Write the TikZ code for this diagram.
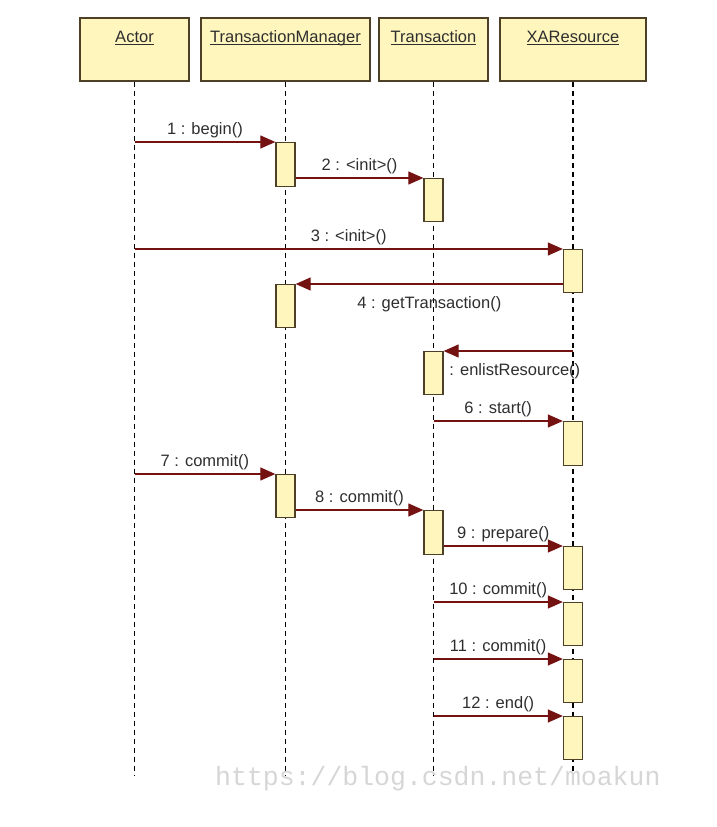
\documentclass[tikz,border=0pt]{standalone}
\usepackage{fontspec}
\setmainfont{Liberation Sans}
\newfontfamily\wmfont{Liberation Mono}
\usepackage{tikz}
\usetikzlibrary{arrows.meta}

\definecolor{boxfill}{HTML}{FFF6BE}
\definecolor{boxline}{HTML}{4E3F27}
\definecolor{msgred}{HTML}{741212}
\definecolor{textgray}{HTML}{2E2E2E}

\begin{document}
\begin{tikzpicture}[x=1pt, y=-1pt, >={Triangle[length=15pt,width=13pt]},
  head/.style={draw=boxline, fill=boxfill, line width=1.3pt, minimum height=63pt, inner sep=0pt},
  headname/.style={font=\fontsize{16.5}{18}\selectfont, text=textgray, anchor=base, inner sep=0pt},
  life/.style={dash pattern=on 5pt off 4pt, line width=1.6pt, black},
  act/.style={draw=boxline, fill=boxfill, line width=1.3pt, minimum width=19pt, minimum height=43pt, inner sep=0pt, anchor=north},
  msg/.style={->, draw=msgred, line width=1.2pt},
  msgtext/.style={font=\fontsize{16.5}{18}\selectfont, text=textgray, anchor=base, inner sep=0pt},
  msglabel/.style={msgtext, yshift=8pt},
  msgbelow/.style={msgtext, yshift=-24pt}]
  % canvas is 717 x 827, y grows downwards
  \useasboundingbox (0,0) rectangle (717,827);

  % --- object heads ---
  \node[head, minimum width=109pt] (actor) at (134.5,49.5) {};
  \node[head, minimum width=169pt] (tm)    at (285.5,49.5) {};
  \node[head, minimum width=109pt] (tx)    at (433.5,49.5) {};
  \node[head, minimum width=146pt] (xa)    at (573,49.5) {};
  \node[headname] (actor-name) at ([yshift=-25pt]actor.north) {\underline{\smash{Actor}}};
  \node[headname] (tm-name)    at ([yshift=-25pt]tm.north)    {\underline{\smash{TransactionManager}}};
  \node[headname] (tx-name)    at ([yshift=-25pt]tx.north)    {\underline{\smash{Transaction}}};
  \node[headname] (xa-name)    at ([yshift=-25pt]xa.north)    {\underline{\smash{XAResource}}};

  % --- lifelines ---
  \coordinate (actor-end) at (actor.south |- 0,775);
  \coordinate (tm-end)    at (tm.south |- 0,775);
  \coordinate (tx-end)    at (tx.south |- 0,775);
  \coordinate (xa-end)    at (xa.south |- 0,772);
  \draw[life] (actor.south) -- (actor-end);
  \draw[life] (tm.south)    -- (tm-end);
  \draw[life] (tx.south)    -- (tx-end);
  \draw[life] (xa.south)    -- (xa-end);

  % --- activations ---
  \node[act, minimum height=44pt] (tm1) at (tm.south |- 0,142) {};
  \node[act] (tx1) at (tx.south |- 0,178) {};
  \node[act] (xa1) at (xa.south |- 0,249) {};
  \node[act] (tm2) at (tm.south |- 0,284) {};
  \node[act] (tx2) at (tx.south |- 0,351) {};
  \node[act, minimum height=44pt] (xa2) at (xa.south |- 0,421) {};
  \node[act] (tm3) at (tm.south |- 0,474) {};
  \node[act, minimum height=44pt] (tx3) at (tx.south |- 0,510) {};
  \node[act] (xa3) at (xa.south |- 0,546) {};
  \node[act] (xa4) at (xa.south |- 0,602) {};
  \node[act] (xa5) at (xa.south |- 0,659) {};
  \node[act] (xa6) at (xa.south |- 0,716) {};

  % --- messages ---
  \draw[msg] (tm1.north west -| actor) -- (tm1.north west)
    node[msglabel, midway] {1 : begin()};
  \draw[msg] (tm1.east |- tx1.north) -- (tx1.north west)
    node[msglabel, midway] {2 : <init>()};
  \draw[msg] (xa1.north west -| actor) -- (xa1.north west)
    node[msglabel, midway] {3 : <init>()};
  \draw[msg] (xa1.west |- tm2.north) -- (tm2.north east)
    node[msgbelow, midway] {4 : getTransaction()};
  \draw[msg] (tx2.north east -| xa) -- (tx2.north east)
    node[msgbelow, pos=0.45] {: enlistResource()};
  \draw[msg] (xa2.north west -| tx) -- (xa2.north west)
    node[msglabel, midway] {6 : start()};
  \draw[msg] (tm3.north west -| actor) -- (tm3.north west)
    node[msglabel, midway] {7 : commit()};
  \draw[msg] (tm3.east |- tx3.north) -- (tx3.north west)
    node[msglabel, midway] {8 : commit()};
  \draw[msg] (tx3.east |- xa3.north) -- (xa3.north west)
    node[msglabel, midway] {9 : prepare()};
  \draw[msg] (xa4.north west -| tx) -- (xa4.north west)
    node[msglabel, midway] {10 : commit()};
  \draw[msg] (xa5.north west -| tx) -- (xa5.north west)
    node[msglabel, midway] {11 : commit()};
  \draw[msg] (xa6.north west -| tx) -- (xa6.north west)
    node[msglabel, midway] {12 : end()};

  % --- watermark ---
  \node[font=\wmfont\fontsize{26.5}{28}\selectfont, text=black!16, anchor=base west, inner sep=0pt]
    (wm) at (215,785) {https://blog.csdn.net/moakun};

\end{tikzpicture}
\end{document}
